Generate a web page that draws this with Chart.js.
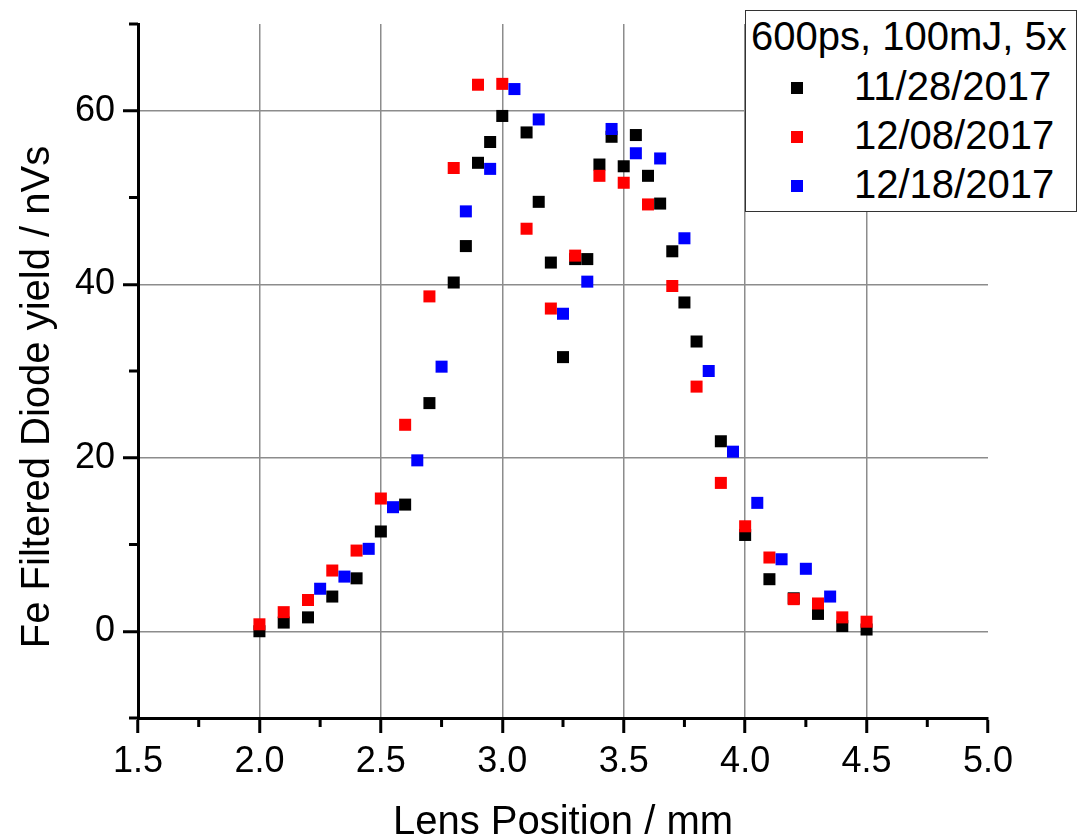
<!DOCTYPE html>
<html>
<head>
<meta charset="utf-8">
<script src="https://cdn.jsdelivr.net/npm/chart.js@4.4.1/dist/chart.umd.min.js"></script>
<style>
  body { margin: 0; background: #fff; }
  #wrap { position: relative; width: 1081px; height: 838px; }
  #legend {
    position: absolute; left: 745px; top: 10px; width: 332px; height: 202px;
    box-sizing: border-box; border: 1.5px solid #333; background: #fff;
    font-family: 'Liberation Sans', Arial, sans-serif; color: #000;
    font-size: 40px; line-height: 40px;
  }
  #legend .title { position: absolute; left: 5px; top: 5px; white-space: nowrap; }
  #legend .mark { position: absolute; left: 45px; width: 12px; height: 12px; }
  #legend .label { position: absolute; left: 108px; white-space: nowrap; }
</style>
</head>
<body>
<div id="wrap">
  <canvas id="graph" width="1081" height="838"></canvas>
  <div id="legend"></div>
</div>
<script>
// -------------------------
// DATA
// -------------------------
const legendTitle = "600ps, 100mJ, 5x";
const seriesNames = ["11/28/2017", "12/08/2017", "12/18/2017"];
const seriesColors = ["#000000", "#ff0000", "#0000ff"];

const nov28X = [2.0, 2.1, 2.2, 2.3, 2.4, 2.5, 2.6, 2.7, 2.8, 2.85, 2.9, 2.95, 3.0, 3.1, 3.15, 3.2, 3.25, 3.3, 3.35,
                3.4, 3.45, 3.5, 3.55, 3.6, 3.65, 3.7, 3.75, 3.8, 3.9, 4.0, 4.1, 4.2, 4.3, 4.4, 4.5];
const nov28Y = [0.0, 1.0, 1.6, 4.0, 6.1, 11.5, 14.6, 26.3, 40.2, 44.4, 54.0, 56.4, 59.4, 57.5, 49.5, 42.5, 31.6, 42.9, 42.9,
                53.8, 57.0, 53.6, 57.2, 52.5, 49.3, 43.8, 37.9, 33.4, 21.9, 11.1, 6.0, 3.8, 2.0, 0.6, 0.2];

const dec08X = [2.0, 2.1, 2.2, 2.3, 2.4, 2.5, 2.6, 2.7, 2.8, 2.9, 3.0, 3.1, 3.2, 3.3, 3.4, 3.5, 3.6, 3.7, 3.8,
                3.9, 4.0, 4.1, 4.2, 4.3, 4.4, 4.5];
const dec08Y = [0.8, 2.2, 3.6, 7.0, 9.3, 15.3, 23.8, 38.6, 53.4, 63.0, 63.1, 46.4, 37.2, 43.3, 52.5, 51.7, 49.2, 39.8, 28.2,
                17.1, 12.1, 8.5, 3.7, 3.2, 1.6, 1.1];

const dec18X = [2.25, 2.35, 2.45, 2.55, 2.65, 2.75, 2.85, 2.95, 3.05, 3.15, 3.25, 3.35, 3.45, 3.55, 3.65, 3.75,
                3.85, 3.95, 4.05, 4.15, 4.25, 4.35];
const dec18Y = [4.9, 6.3, 9.5, 14.3, 19.7, 30.5, 48.4, 53.3, 62.5, 59.0, 36.6, 40.3, 57.9, 55.1, 54.5, 45.3,
                30.0, 20.7, 14.8, 8.3, 7.2, 4.0];

const xTickValues = [1.5, 2.0, 2.5, 3.0, 3.5, 4.0, 4.5, 5.0];
const xMinorTicks = [1.75, 2.25, 2.75, 3.25, 3.75, 4.25, 4.75];
const yTickValues = [0, 20, 40, 60];
const yMinorTicks = [-10, 10, 30, 50, 70];

const xTitle = "Lens Position / mm";
const yTitle = "Fe Filtered Diode yield / nVs";

const FONT = "'Liberation Sans', Arial, sans-serif";

function toPoints(xs, ys) {
  return xs.map((x, i) => ({ x: x, y: ys[i] }));
}

// no auto padding from edge labels, the layout is fixed
function noPadding(s) {
  s.paddingTop = 0;
  s.paddingBottom = 0;
  s.paddingLeft = 0;
  s.paddingRight = 0;
}

// -------------------------
// MINOR TICKS + Y TITLE
// -------------------------
const extras = {
  id: "extras",
  afterDraw(chart) {
    const { ctx, chartArea, scales } = chart;
    ctx.save();
    ctx.strokeStyle = "#000";
    ctx.lineWidth = 3;
    ctx.beginPath();
    xMinorTicks.forEach(v => {
      const px = scales.x.getPixelForValue(v);
      ctx.moveTo(px, chartArea.bottom);
      ctx.lineTo(px, chartArea.bottom + 9);
    });
    yMinorTicks.forEach(v => {
      const py = scales.y.getPixelForValue(v);
      ctx.moveTo(chartArea.left, py);
      ctx.lineTo(chartArea.left - 9, py);
    });
    ctx.stroke();

    ctx.translate(49, 397);
    ctx.rotate(-Math.PI / 2);
    ctx.fillStyle = "#000";
    ctx.font = "40px " + FONT;
    ctx.textAlign = "center";
    ctx.textBaseline = "alphabetic";
    ctx.fillText(yTitle, 0, 0);
    ctx.restore();
  }
};

// -------------------------
// CHART
// -------------------------
const rawSeries = [[nov28X, nov28Y], [dec08X, dec08Y], [dec18X, dec18Y]];

const datasets = rawSeries.map((s, i) => ({
  label: seriesNames[i],
  data: toPoints(s[0], s[1]),
  backgroundColor: seriesColors[i],
  borderColor: seriesColors[i],
  borderWidth: 0,
  pointStyle: "rect",
  pointRadius: 8.5,
  pointHoverRadius: 8.5,
  order: 3 - i
}));

const ctx = document.getElementById("graph").getContext("2d");

new Chart(ctx, {
  type: "scatter",
  data: { datasets: datasets },
  options: {
    responsive: false,
    animation: false,
    layout: { padding: { left: 0, right: 93, top: 24, bottom: 0 } },
    plugins: {
      legend: { display: false },
      tooltip: { enabled: false }
    },
    scales: {
      x: {
        type: "linear",
        min: 1.5,
        max: 5.0,
        afterBuildTicks: s => { s.ticks = xTickValues.map(v => ({ value: v })); },
        afterFit: s => { s.height = 120; noPadding(s); },
        ticks: {
          callback: v => Number(v).toFixed(1),
          color: "#000",
          font: { size: 36, family: FONT },
          padding: 7,
          maxRotation: 0,
          autoSkip: false
        },
        grid: {
          color: c => (c.tick && (c.tick.value === 1.5 || c.tick.value === 5.0)) ? "rgba(0,0,0,0)" : "#8c8c8c",
          lineWidth: 1.5,
          tickColor: "#000",
          tickLength: 15,
          tickWidth: 3
        },
        border: { color: "#000", width: 3 },
        title: {
          display: true,
          text: xTitle,
          color: "#000",
          font: { size: 40, family: FONT, lineHeight: 1 },
          padding: { top: 0, bottom: -5 }
        }
      },
      y: {
        type: "linear",
        min: -10,
        max: 70,
        afterBuildTicks: s => { s.ticks = yTickValues.map(v => ({ value: v })); },
        afterFit: s => { s.width = 138; noPadding(s); },
        ticks: {
          color: "#000",
          font: { size: 36, family: FONT },
          padding: 8
        },
        grid: {
          color: "#8c8c8c",
          lineWidth: 1.5,
          tickColor: "#000",
          tickLength: 15,
          tickWidth: 3
        },
        border: { color: "#000", width: 3 },
        title: { display: false }
      }
    }
  },
  plugins: [extras]
});

// -------------------------
// LEGEND (html overlay)
// -------------------------
function renderLegend() {
  const box = document.getElementById("legend");
  let html = `<div class="title">${legendTitle}</div>`;
  seriesNames.forEach((name, i) => {
    const rowTop = 54.5 + i * 49;
    html += `<div class="mark" style="top:${rowTop + 16}px;background:${seriesColors[i]}"></div>`;
    html += `<div class="label" style="top:${rowTop}px">${name}</div>`;
  });
  box.innerHTML = html;
}

renderLegend();
</script>
</body>
</html>
